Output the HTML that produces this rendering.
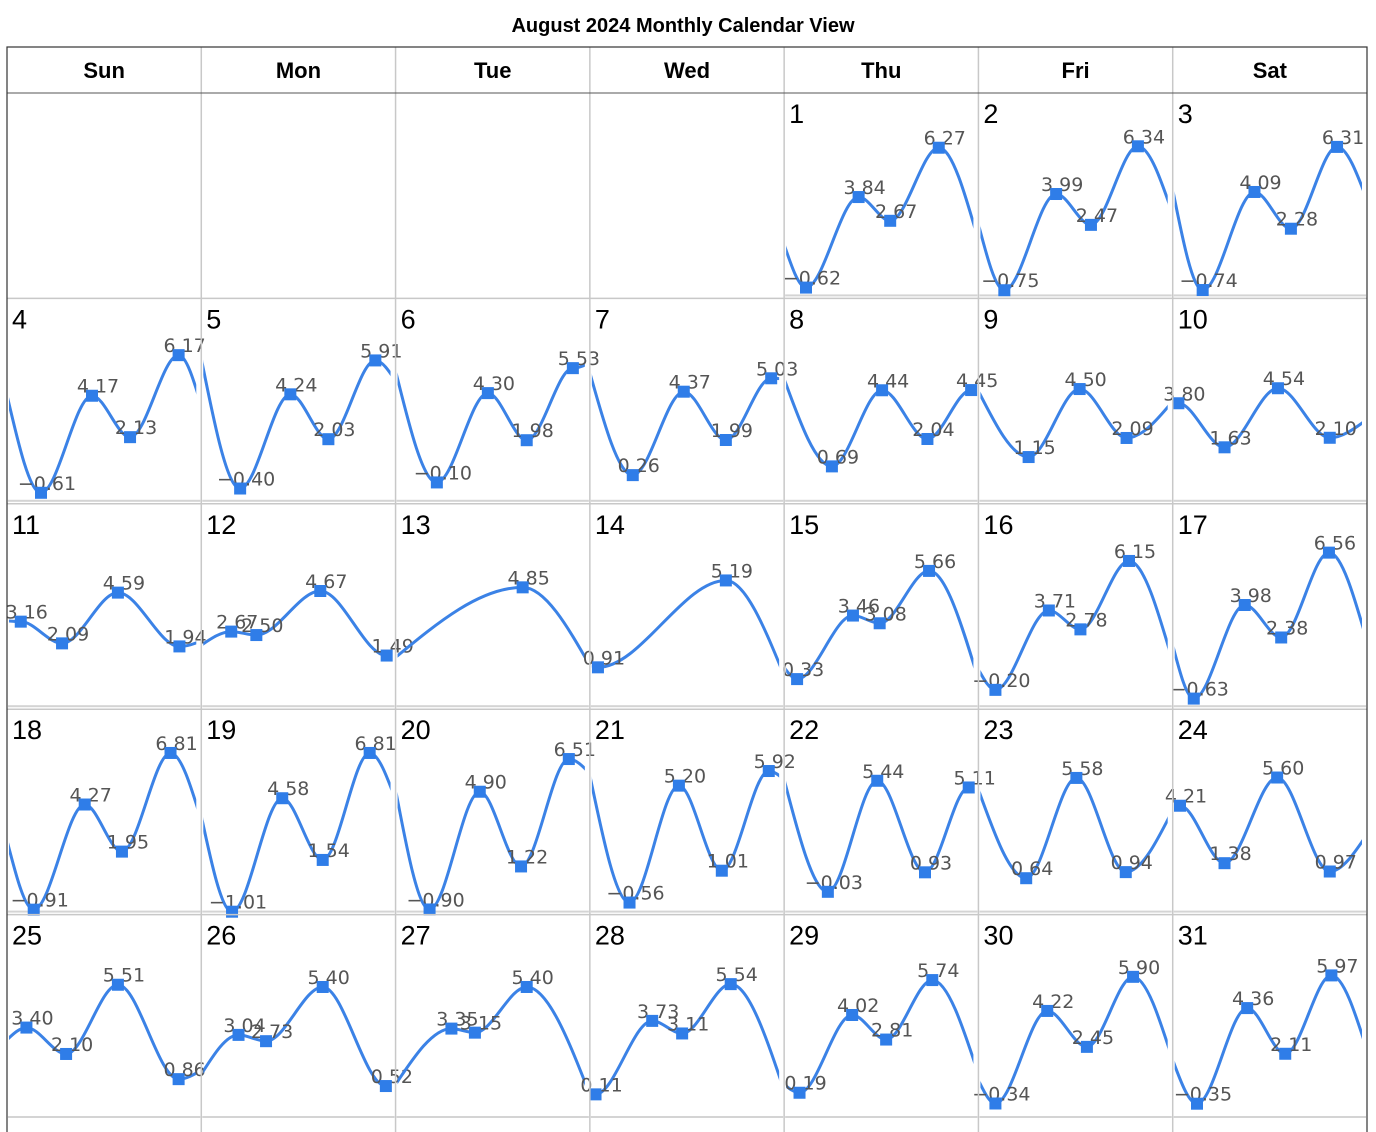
<!DOCTYPE html>
<html><head><meta charset="utf-8"><style>
body{margin:0;background:#fff;}
svg{display:block;font-family:"Liberation Sans",sans-serif;}
.lbl{font-family:"DejaVu Sans",sans-serif;font-size:19px;fill:#555;text-anchor:middle;}
</style></head><body>
<svg id="cal" width="1376" height="1132" xmlns="http://www.w3.org/2000/svg">
<text x="683" y="32" text-anchor="middle" font-size="20" font-weight="bold">August 2024 Monthly Calendar View</text>
</svg>
<script>
const weekdays = ["Sun","Mon","Tue","Wed","Thu","Fri","Sat"];
const firstWeekday = 4;
const dayHours = [
[2.7,9.2,13.1,19.1],[3.2,9.6,13.9,19.7],[3.7,10.1,14.6,20.3],[4.2,10.5,15.2,21.2],
[4.8,11.0,15.7,21.5],[5.1,11.4,16.2,21.9],[5.3,11.6,16.8,22.4],[5.9,12.1,17.7,23.1],
[6.2,12.5,18.3],[0.7,6.4,13.0,19.4],[1.7,6.8,13.7,21.3],[3.7,6.8,14.7,22.9],
[15.7],[1.0,16.8],[1.6,8.5,11.8,17.9],[2.1,8.7,12.6,18.6],[2.6,8.9,13.4,19.3],
[3.3,9.6,14.2,20.2],[3.8,10.0,15.0,20.8],[4.2,10.4,15.5,21.4],[4.9,11.0,16.3,22.1],
[5.4,11.5,17.4,22.8],[5.9,12.1,18.2],[0.9,6.4,12.9,19.4],[2.4,7.3,13.7,21.2],
[4.6,8.0,15.0,22.8],[6.9,9.8,16.2],[0.7,7.7,11.4,17.4],[1.9,8.4,12.6,18.3],
[2.1,8.5,13.4,19.1],[3.0,9.2,13.9,19.6]];
const dayValues = [
[-0.62,3.84,2.67,6.27],[-0.75,3.99,2.47,6.34],[-0.74,4.09,2.28,6.31],[-0.61,4.17,2.13,6.17],
[-0.40,4.24,2.03,5.91],[-0.10,4.30,1.98,5.53],[0.26,4.37,1.99,5.03],[0.69,4.44,2.04,4.45],
[1.15,4.50,2.09],[3.80,1.63,4.54,2.10],[3.16,2.09,4.59,1.94],[2.67,2.50,4.67,1.49],
[4.85],[0.91,5.19],[0.33,3.46,3.08,5.66],[-0.20,3.71,2.78,6.15],[-0.63,3.98,2.38,6.56],
[-0.91,4.27,1.95,6.81],[-1.01,4.58,1.54,6.81],[-0.90,4.90,1.22,6.51],[-0.56,5.20,1.01,5.92],
[-0.03,5.44,0.93,5.11],[0.64,5.58,0.94],[4.21,1.38,5.60,0.97],[3.40,2.10,5.51,0.86],
[3.04,2.73,5.40,0.52],[3.35,3.15,5.40],[0.11,3.73,3.11,5.54],[0.19,4.02,2.81,5.74],
[-0.34,4.22,2.45,5.90],[-0.35,4.36,2.11,5.97]];
const dayStart = [1.5,2.5,4.2,4.2,6.0,5.4,5.3,5.0,4.4,3.7,3.2,2.0,1.4,1.0,0.9,0.8,2.0,2.5,3.7,5.0,5.7,5.5,5.0,4.5,2.8,1.1,0.6,0.2,0.6,0.8,1.8];
const dayEnd   = [1.7,3.0,3.7,3.7,4.9,5.8,5.0,4.4,3.9,3.0,2.2,1.2,1.0,0.5,0.3,1.2,2.2,3.5,4.5,5.8,5.5,5.0,4.0,2.8,1.3,0.3,0.1,0.3,1.1,1.8,2.3];

const NS="http://www.w3.org/2000/svg";
const svg=document.getElementById('cal');
const L=7,R=1367,HT=47,HB=93,CW=(R-L)/7,RH=205.4;
const PXU=20.3, ZERO=182;
function mk(tag,attrs,parent){const e=document.createElementNS(NS,tag);for(const k in attrs)e.setAttribute(k,attrs[k]);(parent||svg).appendChild(e);return e;}
weekdays.forEach((d,i)=>{
  const t=mk('text',{x:L+CW*i+CW/2,y:78,'text-anchor':'middle','font-size':22,'font-weight':'bold'});
  t.textContent=d;
  
  
});
const defs=mk('defs',{});
const fmt=v=>(v<0?'\u2212':'')+Math.abs(v).toFixed(2);
for(let d=0;d<dayValues.length;d++){
  const slot=firstWeekday+d, col=slot%7, row=Math.floor(slot/7);
  const cx=L+CW*col, cy=HB+RH*row;
  const g=mk('g',{});
  
  
  mk('rect',{x:cx+1,y:cy+RH-4,width:CW-2,height:2,fill:'#d4d4d4'},g);
  const cp=mk('clipPath',{id:'c'+d},defs);
  mk('rect',{x:cx+2,y:cy,width:CW-7,height:RH-3},cp);
  const xs=h=>cx+h/24*CW, ys=v=>cy+ZERO-v*PXU;
  const hs=[0,...dayHours[d],24], vs=[dayStart[d],...dayValues[d],dayEnd[d]];
  const P=hs.map((h,i)=>[xs(h),ys(vs[i])]);
  const n=P.length, m=new Array(n).fill(0);
  m[0]=(P[1][1]-P[0][1])/(P[1][0]-P[0][0])*1.5;
  m[n-1]=(P[n-1][1]-P[n-2][1])/(P[n-1][0]-P[n-2][0])*1.5;
  let dstr='M'+P[0][0]+','+P[0][1];
  for(let i=0;i<n-1;i++){
    const dx=(P[i+1][0]-P[i][0])/3;
    dstr+=' C'+(P[i][0]+dx)+','+(P[i][1]+m[i]*dx)+' '+(P[i+1][0]-dx)+','+(P[i+1][1]-m[i+1]*dx)+' '+P[i+1][0]+','+P[i+1][1];
  }
  const path=mk('path',{d:dstr,fill:'none',stroke:'#3b82e6','stroke-width':3,'clip-path':'url(#c'+d+')'},g);
  
  
  dayValues[d].forEach((v,i)=>{
    const x=xs(dayHours[d][i]), y=ys(v);
    const t=mk('text',{x:x+6,y:y-3,class:'lbl'},g);
    t.textContent=fmt(v);
    
    
    const r=mk('rect',{x:x-6,y:y-6,width:12,height:12,fill:'#2f7de8'},g);
    
    
  });
  const num=mk('text',{x:cx+5,y:cy+30,'font-size':27,fill:'#000'},g);
  num.textContent=d+1;
  
  
}
for(let i=1;i<7;i++){const l=mk('line',{x1:L+CW*i,y1:HT,x2:L+CW*i,y2:1132,stroke:'#c8c8c8','stroke-width':1.5});}
for(let r=1;r<5;r++){mk('line',{x1:L,y1:HB+RH*r,x2:R,y2:HB+RH*r,stroke:'#c8c8c8','stroke-width':1.5});}
mk('line',{x1:L,y1:HB,x2:R,y2:HB,stroke:'#555','stroke-width':1});
const fr=mk('rect',{x:L,y:HT,width:R-L,height:1132-HT+5,fill:'none',stroke:'#333','stroke-width':1.2});


</script>
</body></html>
